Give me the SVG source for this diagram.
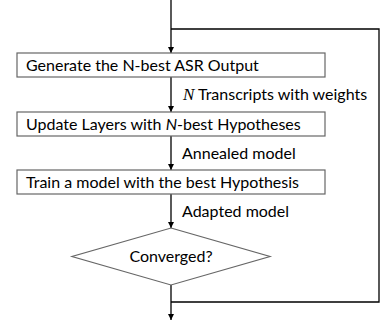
<svg xmlns="http://www.w3.org/2000/svg" width="385" height="327" viewBox="0 0 385 327">
<defs>
<style>
.box{fill:#fff;stroke:#666;stroke-width:1.2}
.ln{fill:none;stroke:#000;stroke-width:1.3}
.t{font-family:"Lato","Liberation Sans",sans-serif;font-size:16px;fill:#000}
</style>
<marker id="ah" viewBox="0 0 6 6" refX="6" refY="3" markerWidth="6" markerHeight="6" markerUnits="userSpaceOnUse" orient="auto">
<path d="M0,0 L6,3 L0,6 Z" fill="#000"/>
</marker>
</defs>
<rect width="385" height="327" fill="#fff"/>
<g id="connectors">
<line class="ln" x1="171" y1="0" x2="171" y2="53" marker-end="url(#ah)"/>
<polyline class="ln" points="171,29 379,29 379,302 171,302"/>
<line class="ln" x1="171" y1="77" x2="171" y2="112" marker-end="url(#ah)"/>
<line class="ln" x1="171" y1="136" x2="171" y2="170" marker-end="url(#ah)"/>
<line class="ln" x1="171" y1="194" x2="171" y2="228" marker-end="url(#ah)"/>
<line class="ln" x1="171" y1="285" x2="171" y2="320" marker-end="url(#ah)"/>
<text class="t" x="183" y="100"><tspan font-family="Liberation Serif,serif" font-style="italic" font-size="17">N</tspan> Transcripts with weights</text>
<text class="t" x="182" y="158.5">Annealed model</text>
<text class="t" x="182" y="216.5">Adapted model</text>
</g>
<g id="n1">
<rect class="box" x="17" y="53" width="308" height="24"/>
<text class="t" x="26" y="70.5">Generate the N-best ASR Output</text>
</g>
<g id="n2">
<rect class="box" x="17" y="112" width="308" height="24"/>
<text class="t" x="26" y="129.5">Update Layers with <tspan font-style="italic">N</tspan>-best Hypotheses</text>
</g>
<g id="n3">
<rect class="box" x="17" y="170" width="308" height="24"/>
<text class="t" x="26" y="187.5">Train a model with the best Hypothesis</text>
</g>
<g id="n4">
<polygon class="box" points="171,228 270,256.5 171,285 72,256.5"/>
<text class="t" x="171" y="262" text-anchor="middle">Converged?</text>
</g>
</svg>
